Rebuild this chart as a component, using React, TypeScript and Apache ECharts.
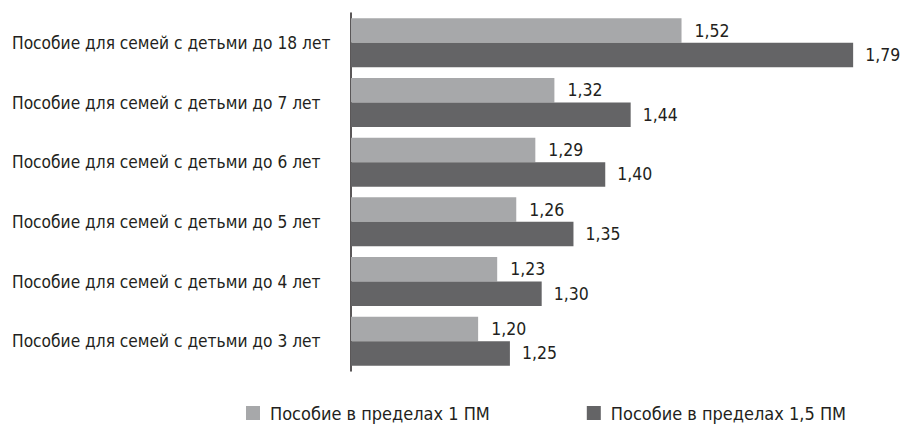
import React, { useEffect, useRef } from "react";
import * as echarts from "echarts";

const categories = [
  "Пособие для семей с детьми до 18 лет",
  "Пособие для семей с детьми до 7 лет",
  "Пособие для семей с детьми до 6 лет",
  "Пособие для семей с детьми до 5 лет",
  "Пособие для семей с детьми до 4 лет",
  "Пособие для семей с детьми до 3 лет",
];
const series1Name = "Пособие в пределах 1 ПМ";
const series2Name = "Пособие в пределах 1,5 ПМ";
const series1 = [1.52, 1.32, 1.29, 1.26, 1.23, 1.2];
const series2 = [1.79, 1.44, 1.4, 1.35, 1.3, 1.25];

const FONT = "'Liberation Sans Narrow', 'DejaVu Sans Condensed', 'Roboto', sans-serif";
const TEXT = "#231f20";

export default function App() {
  const ref = useRef<HTMLDivElement>(null);
  useEffect(() => {
    document.body.style.margin = "0";
    const chart = echarts.init(ref.current!, null, { renderer: "svg" });
    const fmt = (p: any) => Number(p.value).toFixed(2).replace(".", ",");
    chart.setOption({
      animation: false,
      textStyle: { fontFamily: FONT, color: TEXT },
      grid: { left: 351, top: 13, height: 358, width: 508.5 },
      legend: {
        top: 404,
        left: 246,
        itemWidth: 14,
        itemHeight: 14,
        itemGap: 97,
        icon: "rect",
        padding: 0,
        textStyle: { fontFamily: FONT, fontSize: 18, color: TEXT, padding: [0, 0, 0, 5] },
        data: [series1Name, series2Name],
      },
      xAxis: {
        type: "value",
        min: 1,
        max: 1.8,
        show: false,
      },
      yAxis: {
        type: "category",
        data: categories,
        inverse: true,
        axisLine: { show: true, lineStyle: { color: "#231f20", width: 1.5 } },
        axisTick: { show: false },
        axisLabel: {
          align: "left",
          margin: 339,
          fontFamily: FONT,
          fontSize: 17.2,
          color: TEXT,
        },
      },
      series: [
        {
          name: series1Name,
          type: "bar",
          data: series1,
          barWidth: 24.5,
          barGap: "0%",
          itemStyle: { color: "#a7a8aa" },
          label: {
            show: true,
            position: "right",
            distance: 13,
            formatter: fmt,
            fontFamily: FONT,
            fontSize: 17.5,
            color: TEXT,
          },
        },
        {
          name: series2Name,
          type: "bar",
          data: series2,
          barWidth: 24.5,
          barGap: "0%",
          itemStyle: { color: "#646466" },
          label: {
            show: true,
            position: "right",
            distance: 12,
            formatter: fmt,
            fontFamily: FONT,
            fontSize: 17.5,
            color: TEXT,
          },
        },
      ],
    });
    return () => chart.dispose();
  }, []);
  return <div ref={ref} style={{ width: 902, height: 428 }} />;
}
